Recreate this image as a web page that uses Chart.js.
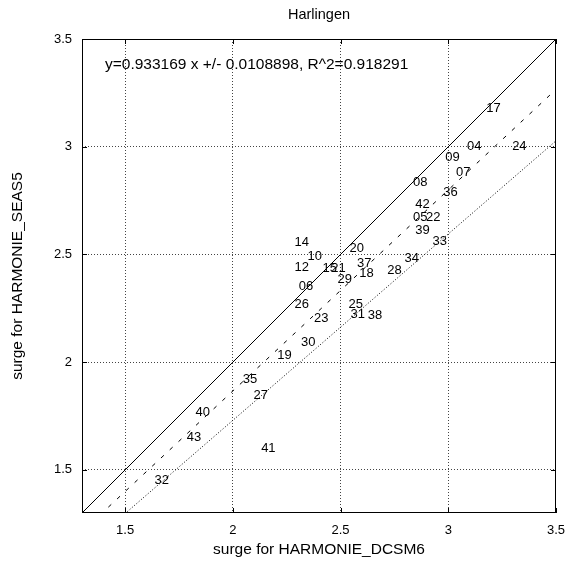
<!DOCTYPE html>
<html>
<head>
<meta charset="utf-8">
<script src="https://cdn.jsdelivr.net/npm/chart.js@4.4.1/dist/chart.umd.min.js"></script>
<style>
  body { margin: 0; background: #fff; }
  #grafico { display: block; }
</style>
</head>
<body>
<canvas id="grafico" width="570" height="567"></canvas>
<script>
const estacoes = ['17','04','24','09','07','08','36','42','05','22','39','33','34','28','20','37','18','29','15','21','14','10','12','06','26','23','25','31','38','30','19','35','27','40','43','41','32'];
const valoresX = [3.21,3.12,3.33,3.02,3.07,2.87,3.01,2.88,2.87,2.93,2.88,2.96,2.83,2.75,2.575,2.61,2.62,2.52,2.45,2.49,2.32,2.38,2.32,2.34,2.32,2.41,2.57,2.58,2.66,2.35,2.24,2.08,2.13,1.86,1.82,2.165,1.67];
const valoresY = [3.18,3.00,3.00,2.95,2.88,2.835,2.79,2.73,2.67,2.67,2.61,2.56,2.48,2.425,2.53,2.46,2.41,2.385,2.435,2.435,2.555,2.49,2.44,2.35,2.27,2.205,2.27,2.22,2.215,2.09,2.03,1.92,1.845,1.765,1.65,1.60,1.45];
const ticksEixo = [1.5, 2, 2.5, 3, 3.5];
const limites = [1.3, 3.5];
const inclinacao = 0.933169;
const inclinacaoInferior = 0.865;
const textoAjuste = 'y=0.933169 x +/- 0.0108898, R^2=0.918291';
const tituloX = 'surge for HARMONIE_DCSM6';
const tituloY = 'surge for HARMONIE_SEAS5';

const fonte = 'Liberation Sans, Arial, sans-serif';

function reta(m) {
    return limites.map(x => ({ x: x, y: m * x }));
}

const pluginRotulos = {
    id: 'rotulos',
    afterDatasetsDraw(chart) {
        const ctx = chart.ctx;
        const a = chart.chartArea;
        const meta = chart.getDatasetMeta(3);
        ctx.save();
        // tiques para dentro, como no gnuplot
        ctx.strokeStyle = '#000';
        ctx.lineWidth = 1;
        ctx.beginPath();
        ticksEixo.forEach(v => {
            const px = Math.round(chart.scales.x.getPixelForValue(v)) + 0.5;
            const py = Math.round(chart.scales.y.getPixelForValue(v)) + 0.5;
            ctx.moveTo(px, a.bottom); ctx.lineTo(px, a.bottom - 5);
            ctx.moveTo(px, a.top); ctx.lineTo(px, a.top + 5);
            ctx.moveTo(a.left, py); ctx.lineTo(a.left + 5, py);
            ctx.moveTo(a.right, py); ctx.lineTo(a.right - 5, py);
        });
        ctx.stroke();
        ctx.strokeRect(a.left + 0.5, a.top + 0.5, a.right - a.left - 1, a.bottom - a.top - 1);

        ctx.font = '13px ' + fonte;
        ctx.fillStyle = '#000';
        ctx.textAlign = 'center';
        ctx.textBaseline = 'middle';
        meta.data.forEach((p, i) => ctx.fillText(estacoes[i], p.x, p.y));
        ctx.font = '15.5px ' + fonte;
        ctx.textAlign = 'left';
        ctx.fillText(textoAjuste, a.left + 23, a.top + 26);
        ctx.restore();
    }
};

const pluginTitulos = {
    id: 'titulos',
    afterDraw(chart) {
        const ctx = chart.ctx;
        const a = chart.chartArea;
        ctx.save();
        ctx.fillStyle = '#000';
        ctx.textAlign = 'center';
        ctx.textBaseline = 'middle';
        ctx.font = '14.5px ' + fonte;
        ctx.fillText('Harlingen', (a.left + a.right) / 2, 15);
        ctx.font = '15.5px ' + fonte;
        ctx.fillText(tituloX, (a.left + a.right) / 2, 550);
        ctx.translate(18, (a.top + a.bottom) / 2);
        ctx.rotate(-Math.PI / 2);
        ctx.fillText(tituloY, 0, 0);
        ctx.restore();
    }
};

function eixo() {
    return {
        type: 'linear',
        min: limites[0],
        max: limites[1],
        afterBuildTicks: s => { s.ticks = ticksEixo.map(v => ({ value: v })); },
        border: { display: false, dash: [1, 2] },
        grid: {
            color: c => c.tick && c.tick.value === 3.5 ? 'rgba(0,0,0,0)' : '#444',
            lineWidth: 1,
            drawTicks: false
        },
        ticks: { color: '#000', font: { size: 13, family: fonte }, padding: 10, callback: v => String(v) }
    };
}

const escalaX = eixo();
escalaX.afterFit = s => { s.height = 54; s.paddingLeft = 0; s.paddingRight = 0; };
const escalaY = eixo();
escalaY.afterFit = s => { s.width = 82; s.paddingTop = 0; s.paddingBottom = 0; };

new Chart(document.getElementById('grafico'), {
    type: 'scatter',
    data: {
        datasets: [
            { data: reta(1), showLine: true, borderColor: '#000', borderWidth: 1, pointRadius: 0 },
            { data: reta(inclinacao), showLine: true, borderColor: '#000', borderWidth: 1, borderDash: [4, 8], pointRadius: 0 },
            { data: reta(inclinacaoInferior), showLine: true, borderColor: '#000', borderWidth: 1, borderDash: [1, 2], pointRadius: 0 },
            { data: valoresX.map((x, i) => ({ x: x, y: valoresY[i] })), pointRadius: 0, showLine: false }
        ]
    },
    options: {
        responsive: false,
        animation: false,
        layout: { padding: { top: 39, right: 14, left: 0, bottom: 0 } },
        plugins: {
            legend: { display: false },
            tooltip: { enabled: false },
            title: { display: false }
        },
        scales: { x: escalaX, y: escalaY }
    },
    plugins: [pluginRotulos, pluginTitulos]
});
</script>
</body>
</html>
